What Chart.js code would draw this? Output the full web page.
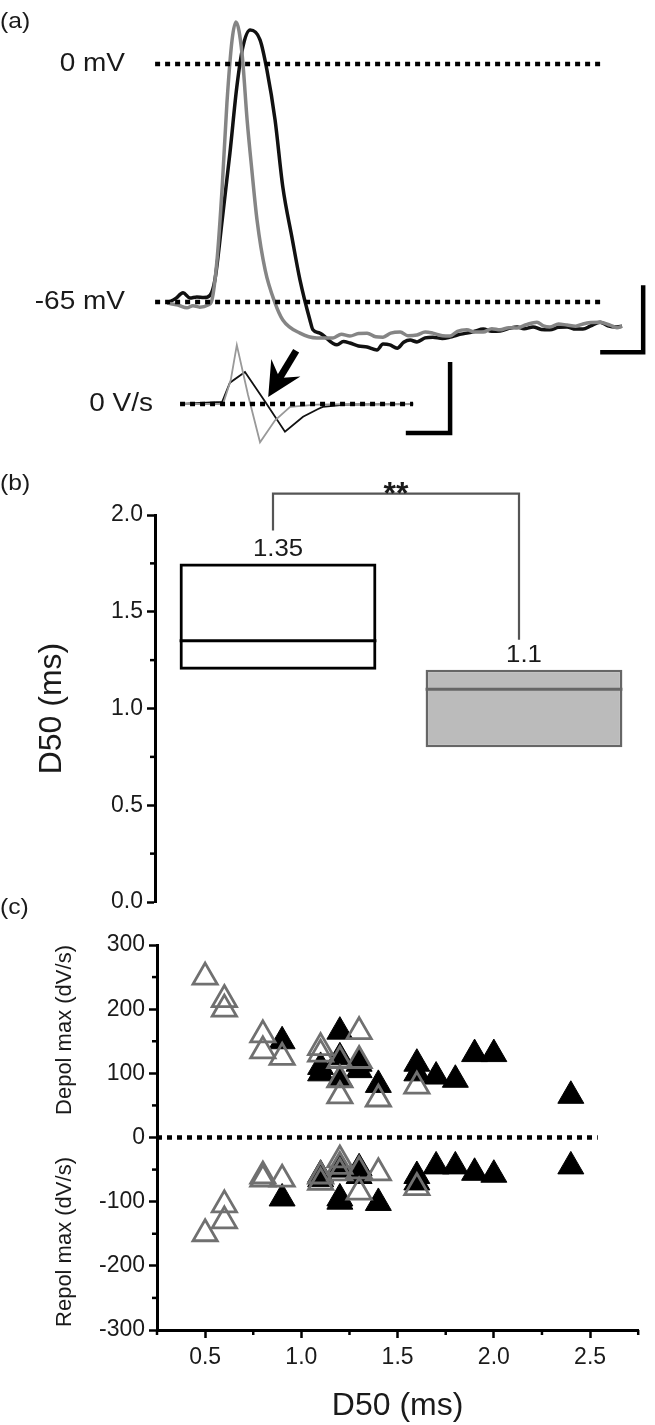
<!DOCTYPE html>
<html>
<head>
<meta charset="utf-8">
<title>D50 figure</title>
<script src="https://cdn.jsdelivr.net/npm/chart.js@4.4.0/dist/chart.umd.min.js"></script>
<style>
  html, body { margin: 0; padding: 0; background: #fff; }
  #wrap { position: relative; width: 655px; height: 1425px; overflow: hidden; }
  #wrap canvas { position: absolute; left: 0; }
</style>
</head>
<body>
<div id="wrap">
  <canvas id="chart-trace" width="655" height="460" style="top:0px"></canvas>
  <canvas id="chart-box" width="655" height="460" style="top:460px"></canvas>
  <canvas id="chart-scatter" width="655" height="535" style="top:890px"></canvas>
</div>
<script>
// ---- (a) action potentials: time (ms), membrane potential (mV)
const blackTime = [0.05, 0.25, 0.42, 0.58, 0.74, 0.90, 1.05, 1.16, 1.33, 1.51, 1.67, 1.81, 1.98, 2.21, 2.37, 2.56, 2.74, 2.95, 3.14, 3.37,
  3.44, 3.60, 4.00, 4.15, 4.30, 4.50, 4.70, 4.93, 5.07, 5.23, 5.40, 5.55, 5.70, 5.86, 6.05, 6.23, 6.45, 6.63, 6.80, 7.02,
  7.20, 7.40, 7.60, 7.79, 8.00, 8.19, 8.35, 8.56, 8.75, 8.95, 9.15, 9.35, 9.55, 9.72, 9.90, 10.12, 10.30, 10.51, 10.63];
const blackVm = [-65.3, -64.0, -62.5, -63.9, -63.6, -63.8, -63.1, -59.0, -42.6, -24.3, -6.3, 4.6, 9.3, 6.6, -1.6, -15.3, -33.6, -47.2, -59.0, -69.9,
  -72.6, -73.5, -76.7, -75.8, -76.2, -77.0, -77.3, -78.1, -76.5, -76.7, -77.6, -76.0, -75.4, -75.9, -74.8, -74.6, -75.0, -74.6, -74.0, -73.5,
  -73.0, -72.4, -73.0, -72.9, -72.2, -71.8, -72.3, -71.8, -72.5, -72.6, -71.9, -71.8, -72.4, -72.4, -71.5, -70.5, -71.5, -71.8, -71.6];
const grayTime = [0.05, 0.30, 0.51, 0.65, 0.81, 1.00, 1.09, 1.21, 1.33, 1.44, 1.56, 1.65, 1.79, 1.91, 2.02, 2.14, 2.33, 2.56, 2.74, 3.14,
  3.53, 3.91, 4.10, 4.30, 4.50, 4.70, 4.90, 5.07, 5.25, 5.47, 5.65, 5.86, 6.05, 6.23, 6.45, 6.63, 6.80, 7.02, 7.20, 7.40,
  7.60, 7.79, 8.00, 8.19, 8.40, 8.65, 8.80, 8.95, 9.15, 9.35, 9.55, 9.72, 9.90, 10.12, 10.35, 10.51, 10.63];
const grayVm = [-65.3, -65.8, -66.6, -66.0, -66.4, -65.8, -64.5, -53.5, -33.6, -10.7, 6.6, 11.5, 3.0, -15.3, -29.0, -42.6, -56.3, -65.3, -69.9, -73.5,
  -74.8, -74.8, -73.8, -74.3, -73.6, -73.5, -74.5, -74.6, -73.5, -73.2, -74.2, -74.0, -73.2, -73.5, -74.2, -74.3, -73.0, -72.6, -73.2, -73.2,
  -72.3, -72.6, -72.0, -72.1, -71.2, -70.5, -71.5, -71.8, -71.0, -71.3, -71.6, -71.0, -70.6, -70.5, -71.3, -72.0, -71.6];

// dV/dt traces (V/s)
const dvdtBlackTime = [0.35, 1.33, 1.51, 1.86, 2.33, 2.79, 3.21, 3.56, 3.67, 4.20, 5.77];
const dvdtBlack = [0, 3, 30, 45, 3, -39, -18, -7, -4, -1, 0];
const dvdtGrayTime = [0.35, 1.35, 1.53, 1.67, 1.93, 2.21, 2.56, 2.91, 3.53, 4.50, 5.77];
const dvdtGray = [0, 0, 34, 83, 13, -54, -23, -4, -1, 0, 0];

// reference levels and scale bars
const refLineTime = [-0.23, 10.23];
const dvdtZeroTime = [0.35, 5.77];
const vmBarTime = [10.12, 11.12, 11.12];
const vmBarVm = [-78.7, -78.7, -60.4];
const dvdtBarTime = [5.60, 6.63, 6.63];
const dvdtBarVal = [-41, -41, 59];
const arrowTail = [3.05, 75];
const arrowTip = [2.40, 10];

// ---- (b) D50 boxes (ms)
const boxGroups = ['black', 'gray'];
const boxLow = [1.2, 0.8];
const boxHigh = [1.75, 1.2];
const boxMedian = [1.35, 1.1];
const sigLevel = 2.11;
const sigLeftEnd = 1.92;
const sigRightEnd = 1.355;

// ---- (c) max depolarisation / repolarisation rate vs D50
const openD50 = [0.5, 0.6, 0.6, 0.8, 0.8, 0.9, 1.1, 1.1, 1.2, 1.2, 1.2, 1.3, 1.3, 1.4, 1.6];
const openDepol = [250, 215, 200, 160, 135, 125, 140, 130, 120, 90, 65, 165, 120, 60, 80];
const openRepol = [-150, -105, -130, -60, -65, -65, -60, -70, -35, -45, -55, -85, -52, -55, -78];
const filledD50 = [0.9, 1.1, 1.1, 1.2, 1.2, 1.2, 1.3, 1.3, 1.4, 1.6, 1.6, 1.7, 1.8, 1.9, 2.0, 2.4];
const filledDepol = [150, 110, 100, 165, 125, 90, 115, 105, 82, 115, 100, 95, 90, 130, 130, 65];
const filledRepol = [-95, -65, -58, -50, -95, -100, -48, -60, -102, -60, -70, -45, -45, -55, -58, -45];
const zeroLineX = [0.25, 2.54];

const FONT = "'Liberation Sans', Arial, Helvetica, sans-serif";
Chart.defaults.font.family = FONT;
Chart.defaults.color = '#1a1a1a';

function pts(xs, ys) {
    return xs.map((x, i) => ({ x: x, y: ys[i] }));
}

function isMajor(v, step) {
    const r = v / step;
    return Math.abs(r - Math.round(r)) < 1e-6;
}

// text helper, slightly widened like the scanned figure
function drawLabel(ctx, text, x, y, size, align, rotate) {
    ctx.save();
    ctx.translate(x, y);
    if (rotate) ctx.rotate(-Math.PI / 2);
    else ctx.scale(1.12, 1);
    ctx.font = size + 'px ' + FONT;
    ctx.fillStyle = '#1a1a1a';
    ctx.textAlign = align || 'left';
    ctx.textBaseline = 'middle';
    ctx.fillText(text, 0, 0);
    ctx.restore();
}

// short unlabeled ticks
const minorTicks = {
    id: 'minorTicks',
    afterDraw(chart) {
        const ctx = chart.ctx;
        ctx.save();
        ctx.strokeStyle = '#000';
        ctx.lineWidth = 2.5;
        Object.values(chart.scales).forEach(scale => {
            if (!scale.options.display) return;
            scale.ticks.forEach(t => {
                if (t.label !== '') return;
                const p = scale.getPixelForValue(t.value);
                ctx.beginPath();
                if (scale.isHorizontal()) {
                    ctx.moveTo(p, scale.top);
                    ctx.lineTo(p, scale.top + 5);
                } else {
                    ctx.moveTo(scale.right - 5, p);
                    ctx.lineTo(scale.right, p);
                }
                ctx.stroke();
            });
        });
        ctx.restore();
    }
};

// ---------------- (a)
const traceLabels = {
    id: 'traceLabels',
    afterDraw(chart) {
        const ctx = chart.ctx;
        const x = chart.scales.x, y = chart.scales.y, y2 = chart.scales.y2;
        drawLabel(ctx, '(a)', 0, 22, 22, 'left');
        drawLabel(ctx, '0 mV', 125, y.getPixelForValue(0), 25, 'right');
        drawLabel(ctx, '-65 mV', 125, y.getPixelForValue(-65), 25, 'right');
        drawLabel(ctx, '0 V/s', 153, y2.getPixelForValue(0), 25, 'right');

        // arrow towards the repolarisation shoulder
        const tx = x.getPixelForValue(arrowTip[0]), ty = y2.getPixelForValue(arrowTip[1]);
        const sx = x.getPixelForValue(arrowTail[0]), sy = y2.getPixelForValue(arrowTail[1]);
        const len = Math.hypot(tx - sx, ty - sy);
        const ux = (tx - sx) / len, uy = (ty - sy) / len;
        const px = -uy, py = ux;
        const hl = 34, hw = 17, notch = 22;
        ctx.save();
        ctx.fillStyle = '#000';
        ctx.strokeStyle = '#000';
        ctx.lineWidth = 7;
        ctx.beginPath();
        ctx.moveTo(sx, sy);
        ctx.lineTo(tx - ux * notch, ty - uy * notch);
        ctx.stroke();
        ctx.beginPath();
        ctx.moveTo(tx, ty);
        ctx.lineTo(tx - ux * hl + px * hw, ty - uy * hl + py * hw);
        ctx.lineTo(tx - ux * notch, ty - uy * notch);
        ctx.lineTo(tx - ux * hl - px * hw, ty - uy * hl - py * hw);
        ctx.closePath();
        ctx.fill();
        ctx.restore();
    }
};

const dotted = { borderColor: '#000', borderWidth: 4.5, borderDash: [5, 5], pointRadius: 0 };
const bar = { borderColor: '#000', borderWidth: 4.5, pointRadius: 0, borderJoinStyle: 'miter' };

new Chart(document.getElementById('chart-trace'), {
    type: 'line',
    data: {
        datasets: [
            Object.assign({ data: pts(refLineTime, [0, 0]), yAxisID: 'y' }, dotted),
            Object.assign({ data: pts(refLineTime, [-65, -65]), yAxisID: 'y' }, dotted),
            Object.assign({ data: pts(dvdtZeroTime, [0, 0]), yAxisID: 'y2' }, dotted),
            { data: pts(grayTime, grayVm), yAxisID: 'y', borderColor: '#858585', borderWidth: 3.5, pointRadius: 0, cubicInterpolationMode: 'monotone' },
            { data: pts(blackTime, blackVm), yAxisID: 'y', borderColor: '#111', borderWidth: 3.5, pointRadius: 0, cubicInterpolationMode: 'monotone' },
            { data: pts(dvdtGrayTime, dvdtGray), yAxisID: 'y2', borderColor: '#999', borderWidth: 1.8, pointRadius: 0 },
            { data: pts(dvdtBlackTime, dvdtBlack), yAxisID: 'y2', borderColor: '#111', borderWidth: 1.8, pointRadius: 0 },
            Object.assign({ data: pts(vmBarTime, vmBarVm), yAxisID: 'y' }, bar),
            Object.assign({ data: pts(dvdtBarTime, dvdtBarVal), yAxisID: 'y2' }, bar)
        ]
    },
    options: {
        responsive: false,
        animation: false,
        layout: { padding: 0 },
        plugins: { legend: { display: false }, tooltip: { enabled: false } },
        scales: {
            x: { type: 'linear', display: false, min: -3.837, max: 11.395 },
            y: { display: false, min: -108.15, max: 17.48 },
            y2: { display: false, min: -78.9, max: 569 }
        }
    },
    plugins: [traceLabels]
});

// ---------------- (b)
const boxExtras = {
    id: 'boxExtras',
    afterDraw(chart) {
        const ctx = chart.ctx;
        const y = chart.scales.y;
        const bars = chart.getDatasetMeta(0).data;
        const lineCol = ['#000', '#666'];
        ctx.save();
        bars.forEach((b, i) => {
            const py = y.getPixelForValue(boxMedian[i]);
            ctx.strokeStyle = lineCol[i];
            ctx.lineWidth = 3;
            ctx.beginPath();
            ctx.moveTo(b.x - b.width / 2, py);
            ctx.lineTo(b.x + b.width / 2, py);
            ctx.stroke();
            drawLabel(ctx, String(boxMedian[i]), b.x, y.getPixelForValue(boxHigh[i]) - 14, 23, 'center');
        });
        // significance bracket
        const xl = bars[0].x - 5, xr = bars[1].x - 5;
        ctx.strokeStyle = '#555';
        ctx.lineWidth = 2.2;
        ctx.beginPath();
        ctx.moveTo(xl, y.getPixelForValue(sigLeftEnd));
        ctx.lineTo(xl, y.getPixelForValue(sigLevel));
        ctx.lineTo(xr, y.getPixelForValue(sigLevel));
        ctx.lineTo(xr, y.getPixelForValue(sigRightEnd));
        ctx.stroke();
        ctx.font = 'bold 32px ' + FONT;
        ctx.fillStyle = '#1a1a1a';
        ctx.textAlign = 'center';
        ctx.textBaseline = 'alphabetic';
        ctx.fillText('**', (xl + xr) / 2, y.getPixelForValue(sigLevel) + 10);
        ctx.restore();
        drawLabel(ctx, '(b)', 0, 24, 22, 'left');
    }
};

new Chart(document.getElementById('chart-box'), {
    type: 'bar',
    data: {
        labels: boxGroups,
        datasets: [{
            data: boxGroups.map((g, i) => [boxLow[i], boxHigh[i]]),
            backgroundColor: ['rgba(255,255,255,0)', '#bbbbbb'],
            borderColor: ['#000', '#666'],
            borderWidth: [3, 2.5],
            borderSkipped: false,
            barPercentage: 0.8,
            categoryPercentage: 1
        }]
    },
    options: {
        responsive: false,
        animation: false,
        layout: { padding: { top: 55, right: 8, bottom: 18, left: 0 } },
        plugins: { legend: { display: false }, tooltip: { enabled: false } },
        scales: {
            x: { display: false },
            y: {
                min: 0,
                max: 2,
                afterFit(scale) { scale.width = 155; },
                border: { display: true, color: '#000', width: 3 },
                grid: {
                    drawOnChartArea: false,
                    tickLength: 8,
                    tickWidth: 2.5,
                    tickColor: c => (c.tick && isMajor(c.tick.value, 0.5)) ? '#000' : 'rgba(0,0,0,0)'
                },
                ticks: {
                    stepSize: 0.25,
                    padding: 4,
                    font: { size: 23 },
                    color: '#1a1a1a',
                    callback: v => isMajor(v, 0.5) ? v.toFixed(1) : ''
                },
                title: {
                    display: true,
                    text: 'D50 (ms)',
                    color: '#1a1a1a',
                    font: { size: 32 },
                    padding: { top: 33, bottom: 0 }
                }
            }
        }
    },
    plugins: [boxExtras, minorTicks]
});

// ---------------- (c)
const scatterLabels = {
    id: 'scatterLabels',
    afterDraw(chart) {
        const ctx = chart.ctx;
        drawLabel(ctx, '(c)', 0, 18, 22, 'left');
        drawLabel(ctx, 'Depol max (dV/s)', 65, 140, 22, 'center', true);
        drawLabel(ctx, 'Repol max (dV/s)', 65, 352, 22, 'center', true);
    }
};

new Chart(document.getElementById('chart-scatter'), {
    type: 'scatter',
    data: {
        datasets: [
            {
                label: 'open',
                data: pts(openD50, openDepol).concat(pts(openD50, openRepol)),
                pointStyle: 'triangle',
                pointRadius: 14,
                backgroundColor: 'rgba(0,0,0,0)',
                borderColor: '#707070',
                borderWidth: 2.8,
                order: 0
            },
            {
                label: 'filled',
                data: pts(filledD50, filledDepol).concat(pts(filledD50, filledRepol)),
                pointStyle: 'triangle',
                pointRadius: 15,
                backgroundColor: '#000',
                borderColor: '#000',
                borderWidth: 1,
                order: 1
            },
            Object.assign({ type: 'line', data: pts(zeroLineX, [0, 0]), order: 2 }, dotted)
        ]
    },
    options: {
        responsive: false,
        animation: false,
        layout: { padding: { top: 55, right: 8, bottom: 0, left: 0 } },
        plugins: { legend: { display: false }, tooltip: { enabled: false } },
        scales: {
            x: {
                type: 'linear',
                min: 0.25,
                max: 2.75,
                afterFit(scale) { scale.height = 95; },
                border: { display: true, color: '#000', width: 3 },
                grid: {
                    drawOnChartArea: false,
                    tickLength: 8,
                    tickWidth: 2.5,
                    tickColor: c => (c.tick && isMajor(c.tick.value, 0.5)) ? '#000' : 'rgba(0,0,0,0)'
                },
                ticks: {
                    stepSize: 0.25,
                    padding: 6,
                    autoSkip: false,
                    maxRotation: 0,
                    font: { size: 23 },
                    color: '#1a1a1a',
                    callback: v => isMajor(v, 0.5) ? v.toFixed(1) : ''
                },
                title: {
                    display: true,
                    text: 'D50 (ms)',
                    color: '#1a1a1a',
                    font: { size: 32 },
                    padding: { top: 0, bottom: 0 }
                }
            },
            y: {
                min: -300,
                max: 300,
                afterFit(scale) { scale.width = 157; },
                border: { display: true, color: '#000', width: 3 },
                grid: {
                    drawOnChartArea: false,
                    tickLength: 8,
                    tickWidth: 2.5,
                    tickColor: c => (c.tick && isMajor(c.tick.value, 100)) ? '#000' : 'rgba(0,0,0,0)'
                },
                ticks: {
                    stepSize: 50,
                    padding: 4,
                    autoSkip: false,
                    font: { size: 23 },
                    color: '#1a1a1a',
                    callback: v => isMajor(v, 100) ? String(v) : ''
                }
            }
        }
    },
    plugins: [scatterLabels, minorTicks]
});
</script>
</body>
</html>
